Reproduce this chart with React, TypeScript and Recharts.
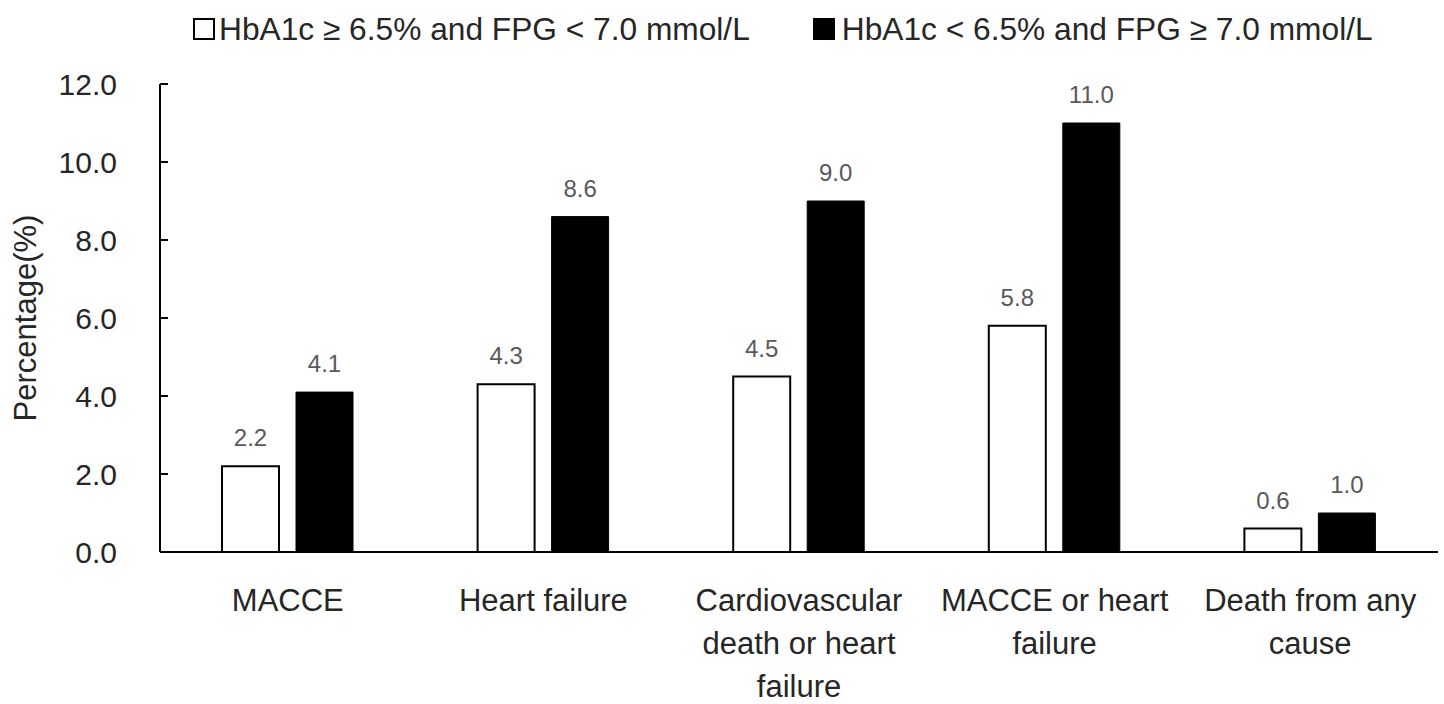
import React from "react";
import { BarChart, Bar, XAxis, YAxis, LabelList } from "recharts";

// outcome categories (explicit line breaks as in the figure)
const categories = [
  "MACCE",
  "Heart failure",
  "Cardiovascular\ndeath or heart\nfailure",
  "MACCE or heart\nfailure",
  "Death from any\ncause",
];
const hba1cOnly = [2.2, 4.3, 4.5, 5.8, 0.6];
const fpgOnly = [4.1, 8.6, 9.0, 11.0, 1.0];
const yTicks = [0, 2, 4, 6, 8, 10, 12];
const seriesNames = [
  "HbA1c \u2265 6.5% and FPG < 7.0 mmol/L",
  "HbA1c < 6.5% and FPG \u2265 7.0 mmol/L",
];

const data = categories.map((name, i) => ({
  name,
  hba1c: hba1cOnly[i],
  fpg: fpgOnly[i],
}));

const FONT = "'Liberation Sans', Arial, sans-serif";
const TEXT = "#262626";

function CategoryTick(props: any) {
  const { x, y, payload } = props;
  const lines = String(payload.value).split("\n");
  return (
    <text x={x} y={y} textAnchor="middle" fill={TEXT} fontSize={31} fontFamily={FONT}>
      {lines.map((l, i) => (
        <tspan key={i} x={x} dy={i === 0 ? 51 : 43}>
          {l}
        </tspan>
      ))}
    </text>
  );
}

function TopLegend() {
  return (
    <div
      style={{
        position: "absolute",
        top: 11,
        left: 193,
        display: "flex",
        alignItems: "center",
        fontFamily: FONT,
        fontSize: 31.7,
        color: TEXT,
        lineHeight: "36px",
        whiteSpace: "nowrap",
      }}
    >
      <span style={{ width: 18, height: 18, border: "2px solid #000", background: "#fff", marginRight: 4 }} />
      <span>{seriesNames[0]}</span>
      <span style={{ width: 22, height: 22, background: "#000", marginLeft: 63, marginRight: 7 }} />
      <span>{seriesNames[1]}</span>
    </div>
  );
}

export default function App() {
  return (
    <div style={{ position: "absolute", left: 0, top: 0, width: 1444, height: 704, background: "#fff" }}>
      <BarChart
        width={1444}
        height={704}
        data={data}
        margin={{ top: 84, right: 6, bottom: 0, left: 60 }}
        barGap={17}
        barSize={57}
      >
        <XAxis
          dataKey="name"
          height={152}
          interval={0}
          tickLine={false}
          axisLine={{ stroke: "#000", strokeWidth: 2 }}
          tick={<CategoryTick />}
        />
        <YAxis
          width={100}
          domain={[0, 12]}
          ticks={yTicks}
          interval={0}
          tickFormatter={(v: number) => v.toFixed(1)}
          tickSize={-8}
          tickMargin={51}
          axisLine={{ stroke: "#000", strokeWidth: 2 }}
          tickLine={{ stroke: "#000", strokeWidth: 2 }}
          tick={{ fill: TEXT, fontSize: 30, fontFamily: FONT }}
          label={{
            value: "Percentage(%)",
            angle: -90,
            position: "insideLeft",
            offset: -35,
            style: { textAnchor: "middle", fill: TEXT, fontSize: 31, fontFamily: FONT },
          }}
        />
        <Bar dataKey="hba1c" fill="#fff" stroke="#000" strokeWidth={2} isAnimationActive={false}>
          <LabelList
            dataKey="hba1c"
            position="top"
            offset={20}
            formatter={(v: number) => v.toFixed(1)}
            style={{ fill: "#595959", fontSize: 24, fontFamily: FONT }}
          />
        </Bar>
        <Bar dataKey="fpg" fill="#000" stroke="#000" strokeWidth={1} isAnimationActive={false}>
          <LabelList
            dataKey="fpg"
            position="top"
            offset={20}
            formatter={(v: number) => v.toFixed(1)}
            style={{ fill: "#595959", fontSize: 24, fontFamily: FONT }}
          />
        </Bar>
      </BarChart>
      <TopLegend />
    </div>
  );
}
